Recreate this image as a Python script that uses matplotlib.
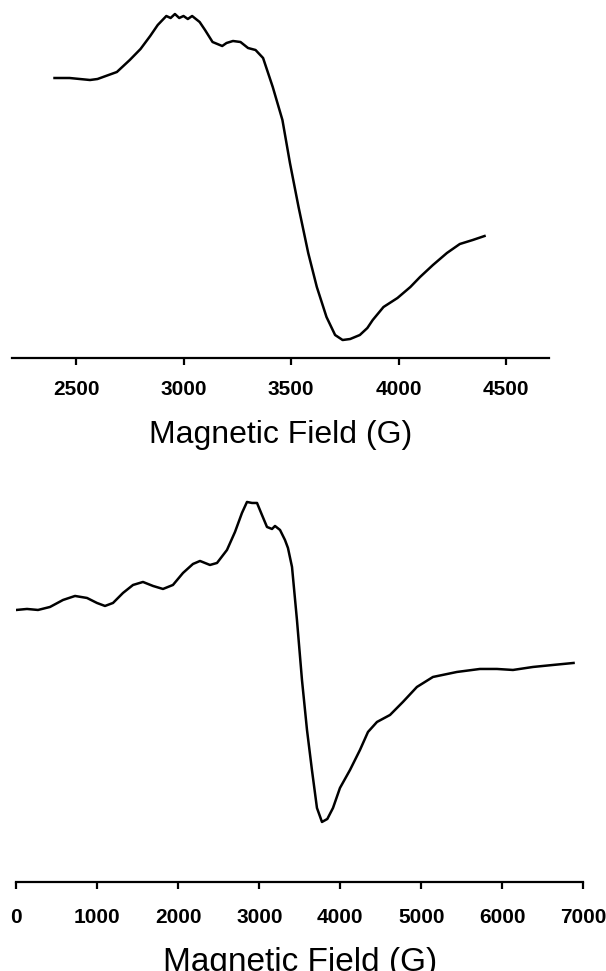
import matplotlib
matplotlib.use("Agg")
import matplotlib.pyplot as plt

# 顶部谱图 (2400-4400 G)
field_top = [2400, 2470, 2565, 2600, 2690, 2750, 2800, 2845, 2880, 2920, 2940, 2960,
             2980, 3000, 3020, 3040, 3075, 3100, 3135, 3180, 3200, 3230, 3265, 3300,
             3335, 3370, 3415, 3460, 3495, 3535, 3580, 3620, 3665, 3705, 3740, 3775,
             3820, 3855, 3880, 3930, 3995, 4055, 4100, 4160, 4225, 4285, 4345, 4400]
signal_top = [279, 279, 277, 278, 285, 297, 308, 321, 332, 341, 339, 343,
              339, 341, 338, 341, 335, 327, 315, 311, 314, 316, 315, 309,
              307, 299, 270, 237, 194, 150, 104, 70, 40, 22, 17, 18,
              22, 29, 37, 50, 59, 70, 80, 92, 104, 113, 117, 121]

# 底部谱图 (0-6900 G)
field_bot = [0, 132, 268, 416, 577, 725, 873, 996, 1095, 1194, 1317, 1441,
             1564, 1688, 1811, 1934, 2058, 2181, 2268, 2391, 2478, 2601, 2700, 2786,
             2848, 2910, 2972, 3033, 3095, 3157, 3194, 3256, 3317, 3354, 3404, 3465,
             3527, 3589, 3650, 3712, 3774, 3840, 3910, 3996, 4120, 4243, 4342, 4453,
             4614, 4773, 4946, 5144, 5440, 5724, 5934, 6132, 6379, 6626, 6880]
signal_bot = [270, 271, 270, 273, 280, 284, 282, 277, 274, 277, 287, 295,
              298, 294, 291, 295, 307, 316, 319, 315, 317, 330, 348, 367,
              378, 377, 377, 365, 353, 351, 354, 350, 340, 332, 313, 260,
              200, 150, 110, 72, 58, 61, 72, 92, 110, 130, 148, 158,
              165, 178, 193, 203, 208, 211, 211, 210, 213, 215, 217]

ticks_top = [2500, 3000, 3500, 4000, 4500]
ticks_bot = [0, 1000, 2000, 3000, 4000, 5000, 6000, 7000]

plt.rcParams["font.family"] = ["Liberation Sans", "DejaVu Sans"]

fig = plt.figure(figsize=(6.06, 9.71), dpi=100)

ax1 = fig.add_axes([0.019, 0.6313, 0.887, 0.3687])
ax2 = fig.add_axes([0.0269, 0.0917, 0.9356, 0.4243])

ax1.plot(field_top, signal_top, color="black", linewidth=1.8)
ax1.set_xlim(2200, 4700)
ax1.set_ylim(-1, 357)
ax1.set_xticks(ticks_top)

ax2.plot(field_bot, signal_bot, color="black", linewidth=1.8)
ax2.set_xlim(0, 7000)
ax2.set_ylim(-2, 410)
ax2.set_xticks(ticks_bot)

# 只保留底部横轴
for ax, tick_pad, lab_size, lab_pad in [(ax1, 11, 23, 15), (ax2, 14, 24, 14)]:
    for side in ["left", "top", "right"]:
        ax.spines[side].set_visible(False)
    ax.spines["bottom"].set_linewidth(1.6)
    ax.set_yticks([])
    ax.tick_params(axis="x", direction="out", length=5, width=1.6, pad=tick_pad,
                   labelsize=15)
    for t in ax.get_xticklabels():
        t.set_fontweight("bold")
    ax.set_xlabel("Magnetic Field (G)", fontsize=lab_size, labelpad=lab_pad)

fig.savefig("out.png", dpi=100)
